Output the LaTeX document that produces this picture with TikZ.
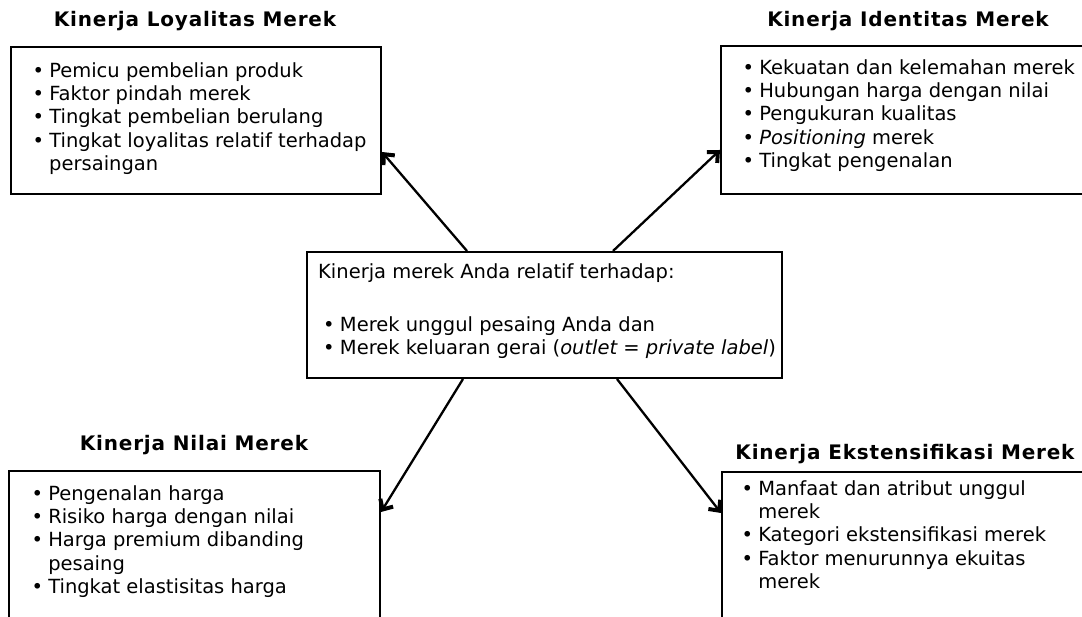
\documentclass[tikz,border=0pt]{standalone}
\usepackage{fontspec}
\setmainfont{DejaVu Sans}
\newfontfamily\headfont[LetterSpace=4]{DejaVu Sans}
\usetikzlibrary{arrows.meta,calc}

% bullet item and continuation indent for the lists
\newcommand\itm{\makebox[16.75pt][l]{\textbullet}}
\newcommand\contline{\hspace*{16.75pt}}

\begin{document}
\begin{tikzpicture}[x=1pt,y=-1pt]
\tikzset{
  box/.style={draw, line width=2pt, inner sep=0pt, anchor=north west},
  body/.style={font=\fontsize{19.5}{23.3}\selectfont, align=left, inner sep=0pt, anchor=north west},
  head/.style={font=\headfont\bfseries\fontsize{20}{22}\selectfont, inner sep=0pt, anchor=base},
  link/.style={line width=2.3pt, -{Straight Barb[length=8pt,width=15pt,line width=4pt]}}
}
\useasboundingbox (0,0) rectangle (1082,617);
\clip (0,0) rectangle (1082,617);
\fill[white] (0,0) rectangle (1082,617);

% headings
\node[head] (hlb) at (195,27) {Kinerja Loyalitas Merek};
\node[head] (hib) at (908,27) {Kinerja Identitas Merek};
\node[head] (hnb) at (194,451) {Kinerja Nilai Merek};
\node[head] (heb) at (905,460) {Kinerja Ekstensifikasi Merek};

% frames
\node[box, minimum width=370pt, minimum height=147pt] (lb) at (10,46) {};
\node[box, minimum width=400pt, minimum height=148pt] (ib) at (720,45) {};
\node[box, minimum width=475pt, minimum height=126pt] (c) at (306,251) {};
\node[box, minimum width=371pt, minimum height=200pt] (nb) at (8,470) {};
\node[box, minimum width=400pt, minimum height=200pt] (eb) at (721,471) {};

% lists
\node[body] (tlb) at (32.3,62.2) {\itm Pemicu pembelian produk\\
  \itm Faktor pindah merek\\
  \itm Tingkat pembelian berulang\\
  \itm Tingkat loyalitas relatif terhadap\\
  \contline persaingan};
\node[body] (tib) at (742.3,59.2) {\itm Kekuatan dan kelemahan merek\\
  \itm Hubungan harga dengan nilai\\
  \itm Pengukuran kualitas\\
  \itm \textit{Positioning} merek\\
  \itm Tingkat pengenalan};
\node[body] (tc) at (318,263.2) {Kinerja merek Anda relatif terhadap:\\[30pt]
  \hspace*{5pt}\itm Merek unggul pesaing Anda dan\\
  \hspace*{5pt}\itm Merek keluaran gerai (\textit{outlet = private label})};
\node[body] (tnb) at (31.3,485.2) {\itm Pengenalan harga\\
  \itm Risiko harga dengan nilai\\
  \itm Harga premium dibanding\\
  \contline pesaing\\
  \itm Tingkat elastisitas harga};
\node[body] (teb) at (741.3,480.2) {\itm Manfaat dan atribut unggul\\
  \contline merek\\
  \itm Kategori ekstensifikasi merek\\
  \itm Faktor menurunnya ekuitas\\
  \contline merek};

% connectors from the centre frame
\draw[link] ($(c.north west)+(161,0)$) -- ($(lb.north east)+(0,106)$);
\draw[link] ($(c.north west)+(307,0)$) -- ($(ib.north west)+(0,105)$);
\draw[link] ($(c.south west)+(157,0)$) -- ($(nb.north east)+(0,42)$);
\draw[link] ($(c.south west)+(311,0)$) -- ($(eb.north west)+(0,42)$);
\end{tikzpicture}
\end{document}
